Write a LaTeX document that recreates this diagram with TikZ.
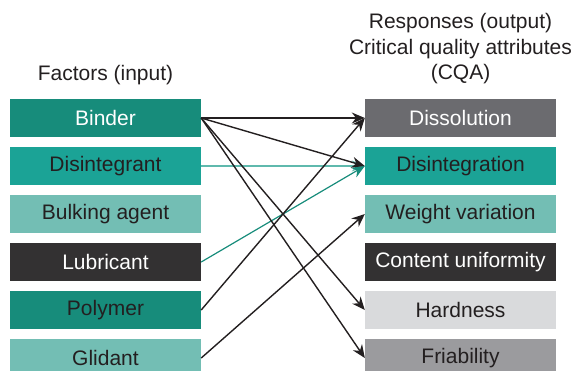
\documentclass[tikz,border=0pt]{standalone}
\usepackage{fontspec}
\setmainfont{Liberation Sans}
\usepackage{tikz}
\usetikzlibrary{arrows.meta, positioning}
\definecolor{tealdark}{HTML}{178C7B}
\definecolor{tealmid}{HTML}{1BA396}
\definecolor{teallight}{HTML}{73BEB4}
\definecolor{blackish}{HTML}{333132}
\definecolor{greydark}{HTML}{6B6B6F}
\definecolor{greymid}{HTML}{9B9B9E}
\definecolor{greylight}{HTML}{D9DADC}
\definecolor{inktext}{HTML}{231F20}
\definecolor{linklight}{HTML}{5FB9AD}
\tikzstyle{box} = [rectangle, minimum width=191pt, minimum height=38pt, inner sep=0pt, text=inktext, font=\fontsize{21}{25.5}\selectfont]
\tikzstyle{heading} = [text=inktext, align=center, font=\fontsize{21}{25.5}\selectfont]
\tikzstyle{arrow} = [line width=1.4pt, draw=inktext, -{Stealth[length=13pt, width=11pt]}]
\tikzstyle{tealarrow} = [line width=1.2pt, draw=tealdark, -{Stealth[length=13pt, width=11pt]}]

\begin{document}
\begin{tikzpicture}[node distance=48pt, x=1pt, y=1pt]
    \useasboundingbox (0,0) rectangle (577,-370);
    % Headings
    \node (facthead) [heading] at (105.5,-75) {Factors (input)};
    \node (resphead) [heading] at (460.5,-49) {Responses (output)\\Critical quality attributes\\(CQA)};

    % Factors
    \node (binder) [box, fill=tealdark, text=white] at (105.5,-118) {Binder};
    \node (disint) [box, fill=tealmid, below of=binder] {Disintegrant};
    \node (bulking) [box, fill=teallight, below of=disint] {Bulking agent};
    \node (lubric) [box, fill=blackish, text=white, below of=bulking] {Lubricant};
    \node (polymer) [box, fill=tealdark, below of=lubric] {Polymer};
    \node (glidant) [box, fill=teallight, below of=polymer] {Glidant};

    % Responses
    \node (dissol) [box, fill=greydark, text=white] at (460.5,-118) {Dissolution};
    \node (disintgr) [box, fill=tealmid, below of=dissol] {Disintegration};
    \node (weight) [box, fill=teallight, below of=disintgr] {Weight variation};
    \node (content) [box, fill=blackish, text=white, below of=weight] {Content uniformity};
    \node (hardness) [box, fill=greylight, below of=content] {Hardness};
    \node (friab) [box, fill=greymid, below of=hardness] {Friability};

    % Arrows
    \draw [tealarrow, draw=linklight] (disint.east) -- (disintgr.west);
    \draw [tealarrow] (lubric.east) -- (disintgr.west);
    \draw [arrow] (binder.east) -- (dissol.west);
    \draw [arrow] (binder.east) -- (disintgr.west);
    \draw [arrow] (binder.east) -- (hardness.west);
    \draw [arrow] (binder.east) -- (friab.west);
    \draw [arrow] (polymer.east) -- (dissol.west);
    \draw [arrow] (glidant.east) -- (weight.west);

\end{tikzpicture}
\end{document}
